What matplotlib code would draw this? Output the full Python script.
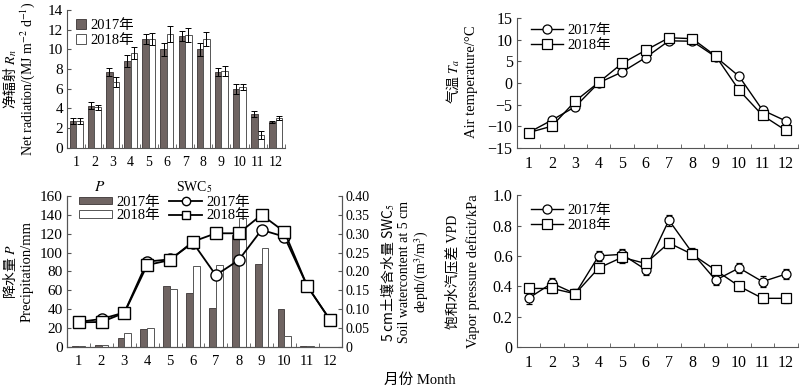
import numpy as np
import matplotlib
matplotlib.use("Agg")
import matplotlib.pyplot as plt
from matplotlib.ticker import FixedLocator, NullFormatter

plt.rcParams['font.family'] = ['Liberation Serif', 'Noto Sans CJK SC']
plt.rcParams['mathtext.fontset'] = 'stix'
plt.rcParams['font.size'] = 10

months = np.arange(1, 13)
month_labels = [str(m) for m in months]

# net radiation (MJ m-2 d-1)
rn_2017 = [2.7, 4.3, 7.7, 8.8, 11.1, 10.0, 11.4, 10.0, 7.7, 6.0, 3.4, 2.6]
rn_2018 = [2.7, 4.1, 6.7, 9.6, 11.1, 11.6, 11.5, 11.1, 7.8, 6.2, 1.3, 3.0]
rn_err_2017 = [0.3, 0.4, 0.4, 0.6, 0.5, 0.7, 0.5, 0.7, 0.4, 0.5, 0.3, 0.1]
rn_err_2018 = [0.3, 0.3, 0.5, 0.6, 0.6, 0.8, 0.7, 0.7, 0.5, 0.3, 0.4, 0.2]

# air temperature (degC)
ta_2017 = [-11.5, -8.6, -5.5, 0.0, 2.5, 5.8, 9.7, 9.6, 6.0, 1.5, -6.3, -8.8]
ta_2018 = [-11.5, -10.0, -4.2, 0.1, 4.5, 7.5, 10.4, 10.2, 6.2, -1.7, -7.5, -11.0]

# precipitation (mm)
p_2017 = [0.8, 2.5, 9, 19, 64, 57, 41, 119, 88, 40, 1, 0]
p_2018 = [0.6, 1.5, 15, 20, 61, 86, 87, 137, 105, 11, 1, 0]

# soil water content at 5 cm (m3/m3)
swc_2017 = [0.066, 0.074, 0.091, 0.226, 0.232, 0.276, 0.190, 0.230, 0.310, 0.292, 0.161, 0.071]
swc_2018 = [0.065, 0.066, 0.090, 0.217, 0.230, 0.279, 0.301, 0.301, 0.350, 0.305, 0.161, 0.071]

# vapor pressure deficit (kPa)
vpd_2017 = [0.32, 0.42, 0.35, 0.60, 0.61, 0.51, 0.835, 0.62, 0.44, 0.52, 0.43, 0.48]
vpd_2018 = [0.385, 0.385, 0.35, 0.52, 0.59, 0.55, 0.685, 0.61, 0.505, 0.40, 0.32, 0.32]
vpd_err_2017 = [0.035, 0.035, 0.03, 0.035, 0.035, 0.035, 0.035, 0.03, 0.035, 0.035, 0.035, 0.035]
vpd_err_2018 = [0.03, 0.03, 0.03, 0.035, 0.035, 0.03, 0.03, 0.03, 0.03, 0.03, 0.03, 0.03]

dark = '#6f6462'
edge = '#3a3434'
spine_c = '#555555'
cjk = ['Noto Sans CJK SC']
mixed = ['Liberation Serif', 'Noto Sans CJK SC']

fig = plt.figure(figsize=(8, 3.88), dpi=100)
ax1 = fig.add_axes([0.084, 0.619, 0.272, 0.355])
ax2 = fig.add_axes([0.646, 0.619, 0.351, 0.335])
ax3 = fig.add_axes([0.084, 0.106, 0.343, 0.389])
ax4 = fig.add_axes([0.646, 0.106, 0.351, 0.391])


def style(ax, xsize, ysize, right=False):
    ax.spines['top'].set_visible(False)
    if not right:
        ax.spines['right'].set_visible(False)
    for s in ax.spines.values():
        s.set_color(spine_c)
        s.set_linewidth(0.8)
    ax.set_xlim(0.5, 12.5)
    ax.set_xticks(months)
    ax.set_xticklabels(month_labels)
    ax.xaxis.set_minor_locator(FixedLocator(np.arange(0.5, 13, 1)))
    ax.xaxis.set_minor_formatter(NullFormatter())
    ax.tick_params(axis='x', which='major', length=0, pad=6, labelsize=xsize)
    ax.tick_params(axis='x', which='minor', direction='in', length=3, color=spine_c)
    ax.tick_params(axis='y', direction='in', length=3, color=spine_c, labelsize=ysize, pad=3)


# --- net radiation
w = 0.36
style(ax1, 10, 11)
b1 = ax1.bar(months - w / 2, rn_2017, w, color=dark, edgecolor=edge, linewidth=0.6,
             yerr=rn_err_2017, error_kw=dict(ecolor='black', elinewidth=0.7, capsize=2.5, capthick=0.7))
b2 = ax1.bar(months + w / 2, rn_2018, w, color='white', edgecolor='#555555', linewidth=0.7,
             yerr=rn_err_2018, error_kw=dict(ecolor='black', elinewidth=0.7, capsize=2.5, capthick=0.7))
ax1.set_ylim(0, 14)
ax1.set_yticks(range(0, 15, 2))
ax1.legend([b1, b2], ['2017年', '2018年'], loc='upper left', bbox_to_anchor=(0.0, 1.0),
           frameon=False, handlelength=0.7, handleheight=0.7, handletextpad=0.3,
           labelspacing=0.1, borderaxespad=0.2, prop={'family': mixed, 'size': 10.5})
fig.text(0.012, 0.796, '净辐射 $R_n$', rotation=90, ha='center', va='center', family=cjk, fontsize=10)
fig.text(0.034, 0.796, 'Net radiation/(MJ m$^{-2}$ d$^{-1}$)', rotation=90, ha='center', va='center', fontsize=10)

# --- air temperature
style(ax2, 11.5, 11.5)
ax2.plot(months, ta_2017, '-o', color='black', lw=1.0, ms=6.5, mfc='white', mec='black', mew=0.9, label='2017年')
ax2.plot(months, ta_2018, '-s', color='black', lw=1.0, ms=6.5, mfc='white', mec='black', mew=0.9, label='2018年')
ax2.set_ylim(-15, 15)
ax2.set_yticks(range(-15, 16, 5))
ax2.legend(loc='upper left', bbox_to_anchor=(0.02, 1.02), frameon=False, handlelength=2.2,
           handletextpad=0.3, labelspacing=0.1, borderaxespad=0.2, prop={'family': mixed, 'size': 10.5})
fig.text(0.566, 0.79, '气温 $T_a$', rotation=90, ha='center', va='center', family=cjk, fontsize=10)
fig.text(0.589, 0.79, 'Air temperature/°C', rotation=90, ha='center', va='center', fontsize=10.5)

# --- precipitation and soil water content
w = 0.3
style(ax3, 10.5, 11, right=True)
ax3.tick_params(axis='y', which='both', right=False)
p1 = ax3.bar(months - w / 2, p_2017, w, color=dark, edgecolor=edge, linewidth=0.6)
p2 = ax3.bar(months + w / 2, p_2018, w, color='white', edgecolor='#555555', linewidth=0.7)
ax3.set_ylim(0, 160)
ax3.set_yticks(range(0, 161, 20))
ax3r = ax3.twinx()
ax3r.spines['top'].set_visible(False)
for s in ax3r.spines.values():
    s.set_color(spine_c)
    s.set_linewidth(0.8)
l1, = ax3r.plot(months, swc_2017, '-o', color='black', lw=1.3, ms=8, mfc='white', mec='black', mew=1.0)
l2, = ax3r.plot(months, swc_2018, '-s', color='black', lw=1.3, ms=8, mfc='white', mec='black', mew=1.0)
ax3r.set_ylim(0, 0.40)
ax3r.set_yticks(np.arange(0, 0.41, 0.05))
ax3r.set_yticklabels(['0'] + ['%.2f' % v for v in np.arange(0.05, 0.41, 0.05)])
ax3r.tick_params(axis='y', direction='in', length=3, color=spine_c, labelsize=10, pad=3)
ax3.legend([p1, p2, l1, l2], ['2017年', '2018年', '2017年', '2018年'], ncol=2,
           loc='upper left', bbox_to_anchor=(0.02, 1.04), frameon=False, handlelength=2.3,
           handleheight=0.45, handletextpad=0.3, labelspacing=0.05, columnspacing=0.6,
           borderaxespad=0.0, markerscale=0.75, prop={'family': mixed, 'size': 10.5})
fig.text(0.125, 0.518, '$P$', ha='center', va='center', fontsize=11)
fig.text(0.243, 0.518, 'SWC$_5$', ha='center', va='center', fontsize=10)
fig.text(0.012, 0.30, '降水量 $P$', rotation=90, ha='center', va='center', family=cjk, fontsize=10)
fig.text(0.034, 0.30, 'Precipitation/mm', rotation=90, ha='center', va='center', fontsize=10.5)
fig.text(0.485, 0.297, '5 cm土壤含水量 SWC$_5$', rotation=90, ha='center', va='center', family=cjk, fontsize=10)
fig.text(0.518, 0.30, 'Soil watercontent at 5 cm\ndepth/(m$^3$/m$^3$)', rotation=90, ha='center',
         va='center', multialignment='center', fontsize=10, linespacing=1.1)

# --- VPD
style(ax4, 11.5, 11.5)
e1 = ax4.errorbar(months, vpd_2017, yerr=vpd_err_2017, fmt='-o', color='black', lw=1.0, ms=6.5,
                  mfc='white', mec='black', mew=0.9, elinewidth=0.7, capsize=2.5, capthick=0.7)
e2 = ax4.errorbar(months, vpd_2018, yerr=vpd_err_2018, fmt='-s', color='black', lw=1.0, ms=6.5,
                  mfc='white', mec='black', mew=0.9, elinewidth=0.7, capsize=2.5, capthick=0.7)
ax4.set_ylim(0, 1.0)
ax4.set_yticks([0, 0.2, 0.4, 0.6, 0.8, 1.0])
ax4.set_yticklabels(['0', '0.2', '0.4', '0.6', '0.8', '1.0'])
ax4.legend([e1.lines[0], e2.lines[0]], ['2017年', '2018年'], loc='upper left',
           bbox_to_anchor=(0.02, 1.0), frameon=False, handlelength=2.2,
           handletextpad=0.3, labelspacing=0.1, borderaxespad=0.2, prop={'family': mixed, 'size': 10.5})
fig.text(0.566, 0.30, '饱和水汽压差 VPD', rotation=90, ha='center', va='center', family=mixed, fontsize=10)
fig.text(0.591, 0.30, 'Vapor pressure deficit/kPa', rotation=90, ha='center', va='center', fontsize=10.5)

fig.text(0.525, 0.02, '月份 Month', ha='center', va='center', family=mixed, fontsize=10.5)

fig.savefig('out.png', dpi=100)
